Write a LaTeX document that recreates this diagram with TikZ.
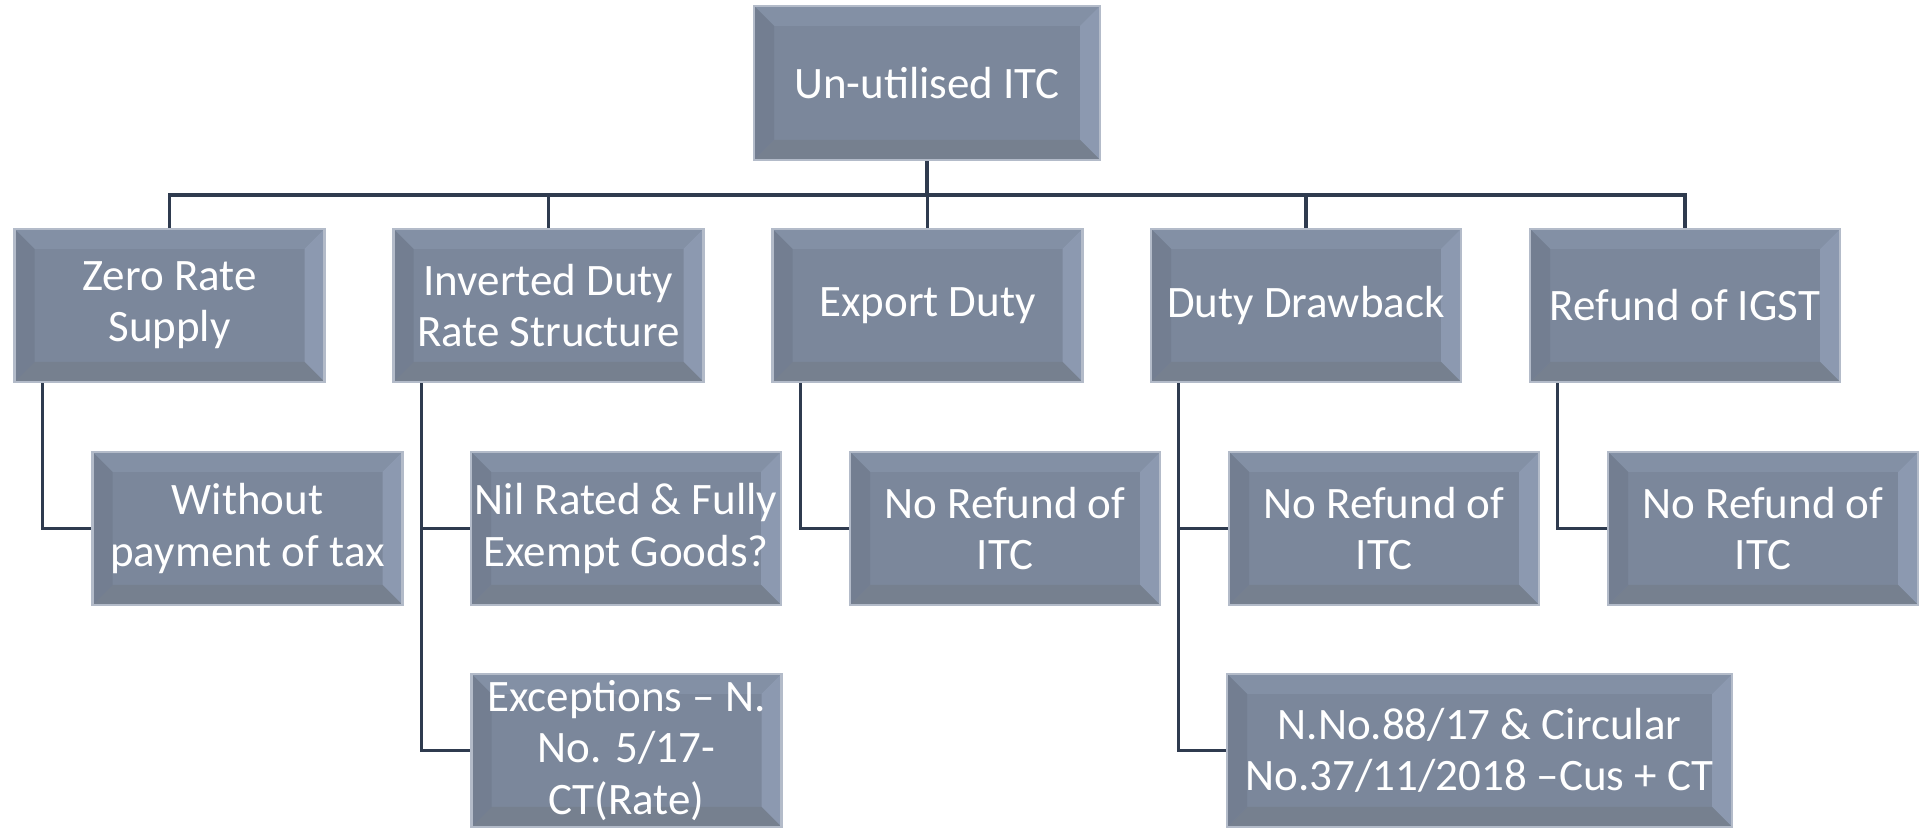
\documentclass[tikz,border=0pt]{standalone}
\usepackage{fontspec}
\setmainfont{Carlito}
\definecolor{boxfill}{HTML}{7B879B}
\definecolor{boxline}{HTML}{B3BBC9}
\definecolor{bevlight}{HTML}{8390A5}
\definecolor{bevright}{HTML}{8C99B0}
\definecolor{bevdark}{HTML}{76808F}
\definecolor{bevleft}{HTML}{737E91}
\definecolor{wire}{HTML}{2F3B4F}
\tikzset{
  bevelbox/.style={draw=boxline, line width=0.8pt, fill=boxfill, text=white,
    minimum width=3.1cm, minimum height=1.53cm, inner sep=0pt, align=center,
    font=\fontsize{12.8}{14.6}\selectfont,
    path picture={
      \def\bw{0.2}
      \path (path picture bounding box.north west) coordinate (nw)
            (path picture bounding box.north east) coordinate (ne)
            (path picture bounding box.south west) coordinate (sw)
            (path picture bounding box.south east) coordinate (se);
      \fill[bevlight] (nw) -- (ne) -- ([shift={(-\bw,-\bw)}]ne) -- ([shift={(\bw,-\bw)}]nw) -- cycle;
      \fill[bevright] (ne) -- (se) -- ([shift={(-\bw,\bw)}]se) -- ([shift={(-\bw,-\bw)}]ne) -- cycle;
      \fill[bevdark] (sw) -- (se) -- ([shift={(-\bw,\bw)}]se) -- ([shift={(\bw,\bw)}]sw) -- cycle;
      \fill[bevleft] (nw) -- (sw) -- ([shift={(\bw,\bw)}]sw) -- ([shift={(\bw,-\bw)}]nw) -- cycle;
    }},
  wirel/.style={draw=wire, line width=0.9pt}
}
\begin{document}
\begin{tikzpicture}
\def\ytop{-0.83}
\def\ymid{-3.055}
\def\ylow{-5.285}
\def\ybot{-7.505}
\useasboundingbox (0,0) rectangle (19.21,-8.29);
% root
\node[bevelbox, minimum width=3.46cm, minimum height=1.54cm] (itc) at (9.27,\ytop) {Un-utilised ITC};
% second row
\node[bevelbox] (zero) at (1.695,\ymid) {Zero Rate\\Supply};
\node[bevelbox] (inv) at (5.485,\ymid) {Inverted Duty\\Rate Structure};
\node[bevelbox] (expd) at (9.275,\ymid) {Export Duty};
\node[bevelbox] (drawb) at (13.06,\ymid) {Duty Drawback};
\node[bevelbox] (igst) at (16.85,\ymid) {Refund of IGST};
% third row
\node[bevelbox] (nopay) at (2.475,\ylow) {Without\\payment of tax};
\node[bevelbox] (nil) at (6.26,\ylow) {Nil Rated \& Fully\\Exempt Goods?};
\node[bevelbox] (exc) at (6.265,\ybot) {Exceptions -- N.\\No. 5/17-\\CT(Rate)};
\node[bevelbox] (noexp) at (10.05,\ylow) {No Refund of\\ITC};
\node[bevelbox] (nodrawb) at (13.84,\ylow) {No Refund of\\ITC};
\node[bevelbox, minimum width=5.05cm] (nno) at (14.795,\ybot) {N.No.88/17 \& Circular\\No.37/11/2018 --Cus + CT};
\node[bevelbox] (noigst) at (17.63,\ylow) {No Refund of\\ITC};
% connectors
\coordinate (bus) at (9.27,-1.95);
\draw[wirel] (itc.south) -- (bus);
\foreach \n in {zero,inv,expd,drawb,igst}
  \draw[wirel] (bus) -| (\n.north);
\draw[wirel] ([xshift=0.29cm]zero.south west) |- (nopay.west);
\draw[wirel] ([xshift=0.29cm]inv.south west) |- (nil.west);
\draw[wirel] ([xshift=0.29cm]inv.south west) |- (exc.west);
\draw[wirel] ([xshift=0.29cm]expd.south west) |- (noexp.west);
\draw[wirel] ([xshift=0.29cm]drawb.south west) |- (nodrawb.west);
\draw[wirel] ([xshift=0.29cm]drawb.south west) |- (nno.west);
\draw[wirel] ([xshift=0.29cm]igst.south west) |- (noigst.west);
\end{tikzpicture}
\end{document}
